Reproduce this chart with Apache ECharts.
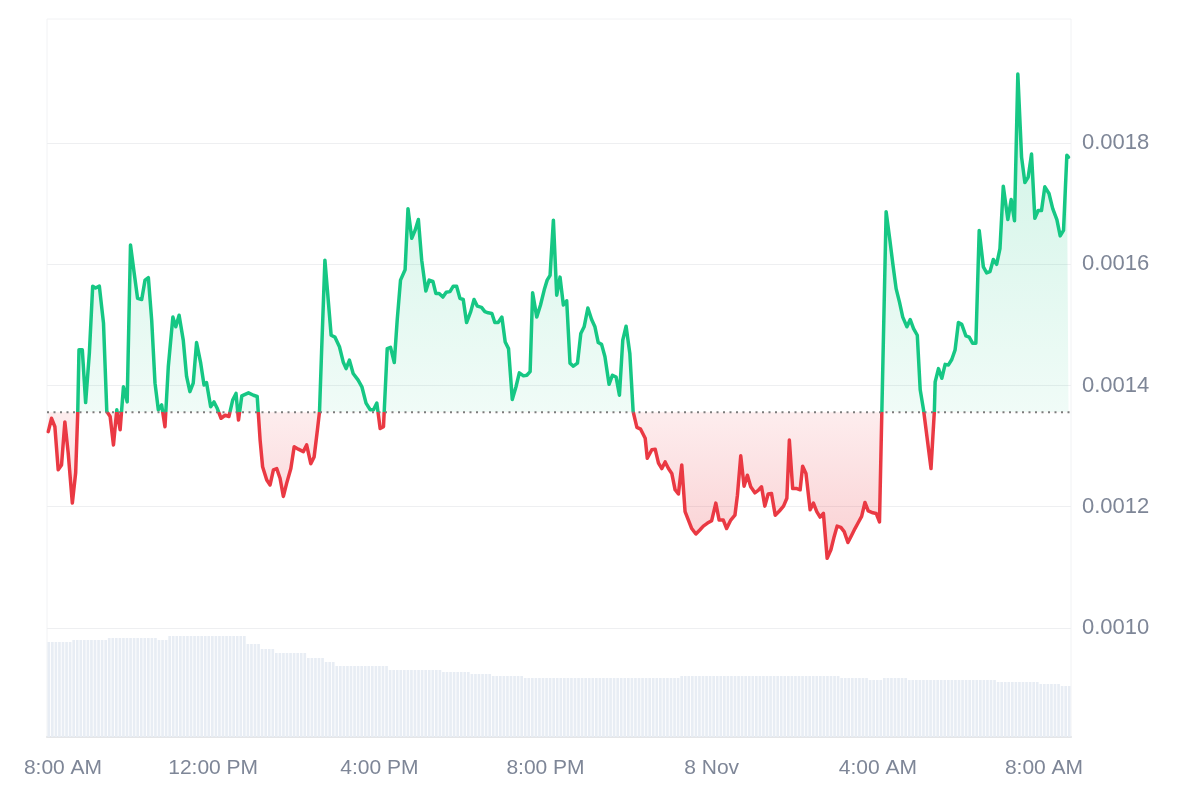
<!DOCTYPE html>
<html>
<head>
<meta charset="utf-8">
<title>Price chart</title>
<script src="https://cdn.jsdelivr.net/npm/echarts@6/dist/echarts.min.js"></script>
<style>
  html, body { margin: 0; padding: 0; background: #fff; }
  #chart { width: 1200px; height: 800px; }
</style>
</head>
<body>
<div id="chart"></div>
<script>
// time is in hours counted from 7 Nov, 8:00 AM
const hours = [
  0.03, 0.11, 0.19, 0.27, 0.35, 0.43, 0.51, 0.61, 0.69, 0.74, 0.77, 0.85, 0.93, 1.02, 1.10, 1.17, 1.26, 1.36, 1.44, 1.52,
  1.60, 1.68, 1.76, 1.84, 1.93, 2.01, 2.10, 2.18, 2.28, 2.36, 2.44, 2.52, 2.60, 2.68, 2.76, 2.84, 2.92, 3.03, 3.10, 3.18,
  3.28, 3.36, 3.44, 3.52, 3.60, 3.70, 3.78, 3.84, 3.94, 4.02, 4.10, 4.19, 4.29, 4.38, 4.47, 4.55, 4.61, 4.69, 4.85, 4.97,
  5.06, 5.13, 5.19, 5.29, 5.37, 5.45, 5.53, 5.61, 5.69, 5.77, 5.87, 5.95, 6.05, 6.17, 6.25, 6.35, 6.43, 6.51, 6.56, 6.61,
  6.69, 6.84, 6.93, 7.04, 7.13, 7.20, 7.28, 7.37, 7.49, 7.58, 7.68, 7.78, 7.86, 7.94, 8.02, 8.10, 8.19, 8.27, 8.36, 8.43,
  8.51, 8.62, 8.69, 8.78, 8.86, 8.94, 9.02, 9.12, 9.20, 9.29, 9.36, 9.44, 9.53, 9.61, 9.70, 9.78, 9.86, 9.94, 10.02, 10.10,
  10.20, 10.28, 10.36, 10.46, 10.54, 10.62, 10.71, 10.78, 10.86, 10.95, 11.03, 11.11, 11.20, 11.29, 11.37, 11.47, 11.55, 11.63, 11.69, 11.79,
  11.88, 11.97, 12.04, 12.11, 12.19, 12.27, 12.35, 12.43, 12.51, 12.59, 12.67, 12.77, 12.85, 12.93, 13.02, 13.11, 13.19, 13.27, 13.35, 13.43,
  13.53, 13.61, 13.70, 13.78, 13.86, 13.94, 14.03, 14.11, 14.20, 14.29, 14.40, 14.45, 14.56, 14.64, 14.72, 14.80, 14.88, 14.96, 15.04, 15.12,
  15.20, 15.28, 15.36, 15.44, 15.52, 15.62, 15.72, 15.80, 15.90, 16.00, 16.10, 16.18, 16.28, 16.36, 16.46, 16.56, 16.62, 16.70, 16.78, 16.86,
  16.94, 17.04, 17.12, 17.20, 17.28, 17.36, 17.44, 17.53, 17.63, 17.73, 17.81, 17.87, 17.95, 18.05, 18.13, 18.19, 18.27, 18.37, 18.45, 18.53,
  18.61, 18.69, 18.78, 18.87, 18.95, 19.02, 19.11, 19.19, 19.28, 19.37, 19.45, 19.53, 19.61, 19.69, 19.77, 19.88, 19.96, 20.04,
  20.20, 20.29, 20.37, 20.44, 20.52, 20.60, 20.70, 20.78, 20.86, 20.95, 21.02, 21.10, 21.28, 21.36, 21.38, 21.46, 21.54, 21.62, 21.70, 21.78,
  21.86, 21.94, 22.02, 22.12, 22.20, 22.28, 22.36, 22.44, 22.54, 22.62, 22.70, 22.78, 22.86, 22.94, 23.02, 23.13, 23.21, 23.29, 23.37, 23.46,
  23.54, 23.62, 23.70, 23.78, 23.86, 23.94, 24.02, 24.12, 24.21, 24.31, 24.39, 24.47, 24.55, 24.59
]

const prices = [
  0.001324, 0.001346, 0.001332, 0.001261, 0.001269, 0.00134, 0.001289, 0.001206, 0.001256, 0.001355, 0.001459, 0.001459, 0.001372, 0.001454, 0.001564, 0.001561, 0.001564, 0.001503, 0.001357, 0.001349,
  0.001302, 0.00136, 0.001327, 0.001398, 0.001373, 0.001632, 0.001585, 0.001544, 0.001542, 0.001574, 0.001578, 0.001508, 0.001404, 0.00136, 0.001368, 0.001332, 0.001431, 0.001513, 0.001497, 0.001516,
  0.001475, 0.001415, 0.00139, 0.001404, 0.001471, 0.001437, 0.001401, 0.001405, 0.001365, 0.001373, 0.001362, 0.001346, 0.001351, 0.001349, 0.001376, 0.001387, 0.001343, 0.001383, 0.001388, 0.001384,
  0.001382, 0.00131, 0.001266, 0.001244, 0.001236, 0.001261, 0.001263, 0.001247, 0.001217, 0.001239, 0.001263, 0.001299, 0.001295, 0.001291, 0.001302, 0.001271, 0.001282, 0.001327, 0.001357, 0.001456,
  0.001607, 0.001483, 0.00148, 0.001464, 0.001439, 0.001428, 0.001442, 0.00142, 0.001409, 0.001398, 0.001371, 0.00136, 0.00136, 0.001371, 0.001329, 0.001332, 0.001461, 0.001463, 0.001438, 0.001508,
  0.001574, 0.001591, 0.001692, 0.001643, 0.001656, 0.001674, 0.001607, 0.001556, 0.001574, 0.001572, 0.001552, 0.001552, 0.001546, 0.001554, 0.001555, 0.001564, 0.001564, 0.001544, 0.001542, 0.001504,
  0.001522, 0.001542, 0.001531, 0.001529, 0.001522, 0.00152, 0.001519, 0.001504, 0.001504, 0.001513, 0.001472, 0.001461, 0.001377, 0.001398, 0.001421, 0.001416, 0.001417, 0.001423, 0.001553, 0.001513,
  0.001533, 0.001558, 0.001574, 0.001582, 0.001673, 0.001549, 0.001579, 0.001533, 0.00154, 0.001437, 0.001432, 0.001437, 0.001486, 0.001497, 0.001528, 0.001509, 0.001497, 0.001471, 0.001468, 0.001448,
  0.001402, 0.001417, 0.001414, 0.001384, 0.001475, 0.001498, 0.001453, 0.001357, 0.001331, 0.001328, 0.001313, 0.00128, 0.001294, 0.001295, 0.001272, 0.001263, 0.001274, 0.001263, 0.001255, 0.001228,
  0.001221, 0.001269, 0.001192, 0.001178, 0.001164, 0.001155, 0.001162, 0.001168, 0.001173, 0.001177, 0.001206, 0.001178, 0.001178, 0.001164, 0.001178, 0.001186, 0.001219, 0.001284, 0.001234, 0.001252,
  0.001233, 0.001223, 0.001227, 0.001233, 0.001201, 0.001221, 0.001222, 0.001186, 0.001193, 0.001201, 0.001214, 0.00131, 0.00123, 0.00123, 0.001228, 0.001267, 0.001255, 0.001195, 0.001206, 0.001192,
  0.001183, 0.001189, 0.001115, 0.001129, 0.001151, 0.001168, 0.001166, 0.001159, 0.001141, 0.001153, 0.001164, 0.001174, 0.001184, 0.001207, 0.001193, 0.00119, 0.001189, 0.001175,
  0.001687, 0.00164, 0.001596, 0.00156, 0.001538, 0.001513, 0.001497, 0.001509, 0.001494, 0.001483, 0.001393, 0.00136, 0.001263, 0.001357, 0.001406, 0.001428, 0.001412, 0.001435, 0.001434, 0.001443,
  0.001459, 0.001504, 0.001501, 0.001482, 0.00148, 0.00147, 0.00147, 0.001656, 0.001596, 0.001586, 0.001588, 0.001608, 0.0016, 0.001626, 0.001729, 0.001674, 0.001707, 0.001672, 0.001914, 0.001777,
  0.001735, 0.001744, 0.001782, 0.001676, 0.001689, 0.001689, 0.001728, 0.001717, 0.001692, 0.001674, 0.001647, 0.001656, 0.00178, 0.001777
]

// price 24h ago, drawn as the dotted reference line
const basePrice = 0.001356

const xTickLabels = ['8:00 AM', '12:00 PM', '4:00 PM', '8:00 PM', '8 Nov', '4:00 AM', '8:00 AM']
const yTickLabels = ['0.0010', '0.0012', '0.0014', '0.0016', '0.0018']

// rolling volume, one bar per 5 minutes, kept as runs of equal height
const volumeLevels = [9.5, 9.7, 9.9, 9.7, 10.1, 9.3, 8.8, 8.4, 7.9, 7.5, 7.1, 6.7, 6.5, 6.3, 6.1, 5.9, 6.1, 5.9, 5.7, 5.9, 5.7, 5.5, 5.3, 5.1]
const volumeCounts = [7, 10, 14, 3, 22, 4, 4, 9, 5, 3, 15, 15, 8, 6, 9, 44, 45, 8, 4, 7, 25, 12, 6, 3]

const X_MIN = 0
const X_MAX = 24.65

const GREEN = '#16c784'
const RED = '#ea3943'
const LABEL_COLOR = '#7e8697'
const FONT = "'Liberation Sans', Arial, sans-serif"

const volumes = []
volumeLevels.forEach((v, i) => {
  for (let k = 0; k < volumeCounts[i]; k++) volumes.push(v)
})
const volumeSlots = volumes.map((_, i) => i)

const priceData = hours.map((h, i) => [h, prices[i]])
const baseData = [[X_MIN, basePrice], [X_MAX, basePrice]]
const maxP = Math.max(...prices)
const minP = Math.min(...prices)
// where the reference price sits inside the filled area, top = 0
const split = (maxP - basePrice) / (maxP - minP)

const chart = echarts.init(document.getElementById('chart'), null, { renderer: 'canvas' })

const option = {
  animation: false,
  backgroundColor: '#fff',
  grid: [
    { left: 47, right: 129, top: 22, bottom: 63, outerBoundsMode: 'none' },
    { left: 47, right: 129, top: 19, bottom: 63, outerBoundsMode: 'none', show: true, borderColor: '#f1f2f4', borderWidth: 1 }
  ],
  xAxis: [
    {
      type: 'value',
      gridIndex: 0,
      min: X_MIN,
      max: X_MAX,
      interval: 4,
      axisLine: { show: true, lineStyle: { color: '#eef0f3', width: 1 } },
      axisTick: { show: false },
      splitLine: { show: false },
      axisLabel: {
        margin: 21,
        color: LABEL_COLOR,
        fontFamily: FONT,
        fontSize: 21,
        showMaxLabel: false,
        formatter: v => {
          const i = Math.round(v / 4)
          if (Math.abs(v - i * 4) > 1e-6 || !xTickLabels[i]) return ''
          return i === 0 ? '{first|' + xTickLabels[0] + '}' : xTickLabels[i]
        },
        rich: {
          first: { padding: [0, 0, 0, 32], color: LABEL_COLOR, fontFamily: FONT, fontSize: 21 }
        }
      }
    },
    {
      type: 'category',
      gridIndex: 1,
      position: 'top',
      data: volumeSlots,
      boundaryGap: true,
      axisLine: { show: true, lineStyle: { color: '#e5e6e8', width: 2 } },
      axisTick: { show: false },
      axisLabel: { show: false },
      splitLine: { show: false }
    }
  ],
  yAxis: [
    {
      type: 'value',
      gridIndex: 0,
      position: 'right',
      min: 0.00082,
      max: 0.002,
      splitNumber: 5,
      axisLine: { show: false },
      axisTick: { show: false },
      splitLine: { show: true, showMinLine: false, showMaxLine: false, lineStyle: { color: '#eeeff1', width: 1 } },
      axisLabel: {
        margin: 11,
        color: LABEL_COLOR,
        fontFamily: FONT,
        fontSize: 22,
        showMinLabel: false,
        showMaxLabel: false,
        formatter: v => {
          const s = v.toFixed(4)
          return yTickLabels.includes(s) ? s : ''
        }
      }
    },
    {
      type: 'value',
      gridIndex: 1,
      min: 0,
      max: 71.8,
      show: false,
      splitLine: { show: false }
    }
  ],
  series: [
    {
      name: 'Volume',
      type: 'bar',
      xAxisIndex: 1,
      yAxisIndex: 1,
      data: volumes,
      barCategoryGap: '25%',
      itemStyle: { color: '#e8edf4' },
      silent: true,
      z: 1
    },
    {
      name: 'Price',
      type: 'line',
      xAxisIndex: 0,
      yAxisIndex: 0,
      data: priceData,
      showSymbol: false,
      symbol: 'none',
      z: 3,
      lineStyle: { width: 3.5, color: GREEN, join: 'round', cap: 'round' },
      areaStyle: {
        origin: basePrice,
        color: new echarts.graphic.LinearGradient(0, 0, 0, 1, [
          { offset: 0, color: 'rgba(22,199,132,0.30)' },
          { offset: split, color: 'rgba(22,199,132,0.09)' },
          { offset: split, color: 'rgba(234,57,67,0.13)' },
          { offset: 1, color: 'rgba(234,57,67,0.34)' }
        ])
      }
    },
    {
      name: 'Reference',
      type: 'line',
      xAxisIndex: 0,
      yAxisIndex: 0,
      data: baseData,
      showSymbol: false,
      symbol: 'none',
      silent: true,
      z: 4,
      lineStyle: { width: 2, color: '#7c7c7c', type: [2, 4.5] }
    }
  ]
}

chart.setOption(option)

// switch the stroke colour exactly at the reference price, in pixel space
const basePx = chart.convertToPixel({ yAxisIndex: 0 }, basePrice)
const chartH = chart.getHeight()
const cut = basePx / chartH
chart.setOption({
  series: [{}, {
    lineStyle: {
      color: new echarts.graphic.LinearGradient(0, 0, 0, chartH, [
        { offset: 0, color: GREEN },
        { offset: cut, color: GREEN },
        { offset: cut, color: RED },
        { offset: 1, color: RED }
      ], true)
    }
  }, {}]
})
</script>
</body>
</html>
